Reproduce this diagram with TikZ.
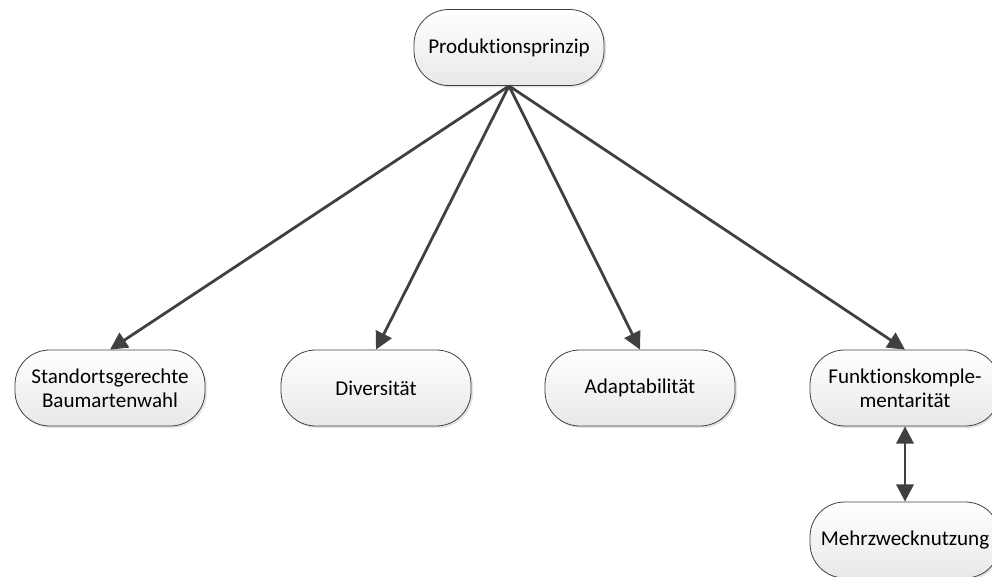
\documentclass[tikz,border=0pt]{standalone}
\usepackage{fontspec}
\setmainfont{Carlito}[Ligatures=NoCommon]
\usetikzlibrary{arrows.meta,shadows}
\begin{document}
\begin{tikzpicture}[x=0.75pt,y=-0.75pt,
  box/.style={draw=black!75, line width=0.6pt, rounded corners=26pt,
    minimum width=142.5pt, minimum height=57pt, top color=white, bottom color=black!9,
    align=center, font=\fontsize{15.8}{18}\selectfont, inner sep=0pt,
    drop shadow={shadow xshift=1.5pt, shadow yshift=-1.5pt, opacity=0.22, fill=black!50}},
  conn/.style={draw=black!75, line width=2.1pt, -{Triangle[length=13pt,width=13pt]}},
  bidir/.style={draw=black!75, line width=2.1pt, {Triangle[length=13pt,width=13pt]}-{Triangle[length=13pt,width=13pt]}}
]
\useasboundingbox (0,0) rectangle (992,577);
\node[box] (p) at (509,47.5) {Produktionsprinzip};
\node[box] (s) at (110,388) {Standortsgerechte\\Baumartenwahl};
\node[box] (d) at (376,388) {Diversität};
\node[box] (a) at (640,388) {Adaptabilität};
\node[box] (f) at (905,388) {Funktionskomple-\\mentarität};
\node[box] (m) at (905,540) {Mehrzwecknutzung};
\draw[conn] (p.south) -- (s.north);
\draw[conn] (p.south) -- (d.north);
\draw[conn] (p.south) -- (a.north);
\draw[conn] (p.south) -- (f.north);
\draw[bidir] (f.south) -- (m.north);
\end{tikzpicture}
\end{document}
